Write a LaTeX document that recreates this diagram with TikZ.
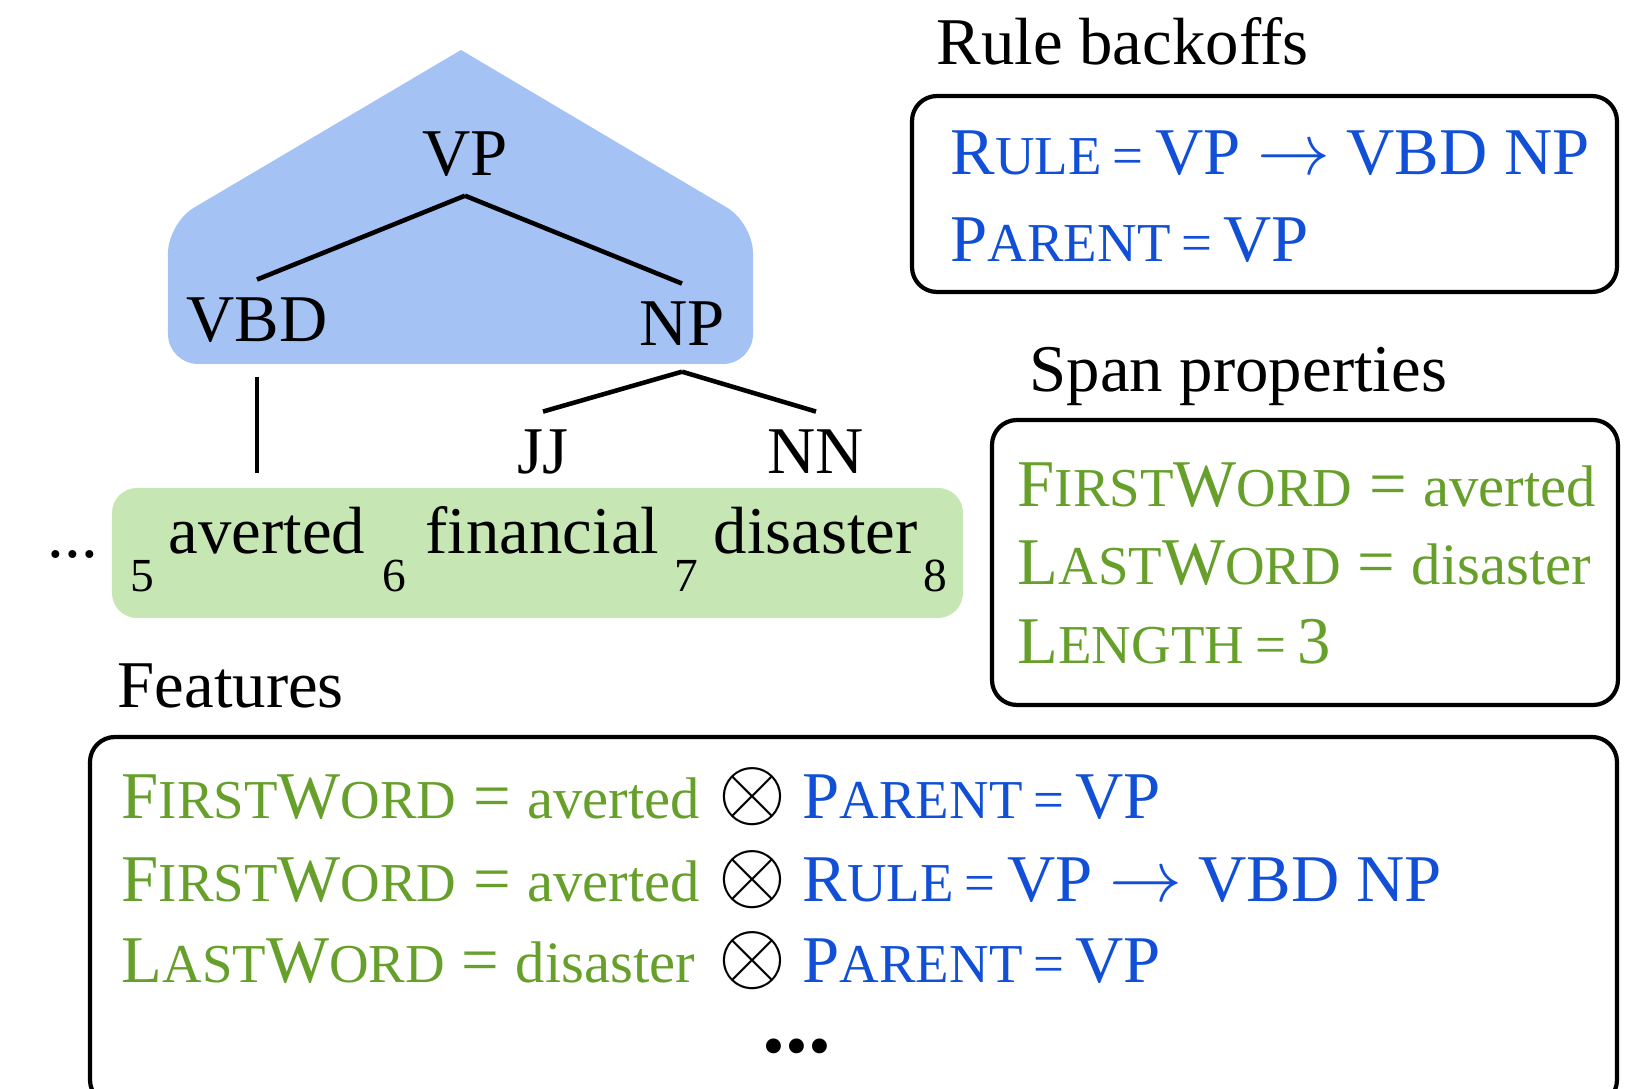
\documentclass[tikz,border=0pt]{standalone}
\usepackage{fontspec}
\setmainfont{Liberation Serif}
\usetikzlibrary{calc}

\definecolor{treeblue}{HTML}{A4C2F4}
\definecolor{spangreen}{HTML}{C6E6B3}
\definecolor{ruletext}{HTML}{1150D6}
\definecolor{spantext}{HTML}{66A02A}

\begin{document}
\begin{tikzpicture}[
  every node/.style={font=\fontsize{19}{22}\selectfont, inner sep=0.18cm},
  lbl/.style={anchor=base},
  txt/.style={anchor=base west, inner sep=0pt},
  idx/.style={anchor=base west, inner sep=0pt, font=\fontsize{13.5}{15}\selectfont},
  otimes/.style={anchor=base, inner sep=0pt, font=\fontsize{24}{24}\selectfont},
  edge/.style={line width=1.3pt},
  featbox/.style={draw, line width=1.2pt, rounded corners=0.25cm}
]
  \clip (0,0) rectangle (16.44,-10.89);

  \newcommand{\fakesc}[2]{#1{\fontsize{15.6}{16}\selectfont #2}}
  \newcommand{\smalleq}{\,{\fontsize{15.6}{16}\selectfont =}\,}
  \newcommand{\wordval}[1]{{\fontsize{16.7}{18}\selectfont #1}}
  \newcommand{\ruleto}{\ {\fontsize{21.5}{22}\selectfont$\rightarrow$}\ }

  % tree
  \fill[treeblue, rounded corners=0.3cm] (4.61,-0.50) -- (7.53,-2.23) --
    (7.53,-3.64) -- (1.68,-3.64) -- (1.68,-2.23) -- (4.61,-0.50);
  \fill[spangreen, rounded corners=0.25cm] (1.12,-4.88) rectangle (9.63,-6.18);

  \node[lbl] (VP) at (4.65,-1.76) {VP};
  \node[lbl] (VBD) at (2.57,-3.42) {VBD};
  \node[lbl] (NP) at (6.82,-3.46) {NP};
  \node[lbl] (JJ) at (5.43,-4.74) {JJ};
  \node[lbl] (NN) at (8.16,-4.74) {NN};

  \node[txt] (dots) at (0.47,-5.58) {...};
  \node[idx] (i5) at (1.30,-5.92) {5};
  \node[txt] (averted) at (1.68,-5.54) {averted};
  \node[idx] (i6) at (3.82,-5.92) {6};
  \node[txt] (financial) at (4.25,-5.54) {financial};
  \node[idx] (i7) at (6.74,-5.92) {7};
  \node[txt] (disaster) at (7.13,-5.54) {disaster};
  \node[idx] (i8) at (9.23,-5.92) {8};

  \draw[edge] (VP.south) -- (VBD.north);
  \draw[edge] (VP.south) -- (NP.north);
  \draw[edge] ([yshift=-0.07cm]NP.south) -- (JJ.north);
  \draw[edge] ([yshift=-0.07cm]NP.south) -- (NN.north);
  \draw[edge, shorten <=0.15cm, shorten >=0.34cm] (VBD.south) -- (VBD.south |- averted.north);

  % rule backoffs
  \node[txt] (rulehead) at (9.36,-0.65) {Rule backoffs};
  \draw[featbox] (9.12,-0.96) rectangle (16.17,-2.92);
  \node[txt, text=ruletext] (rule) at (9.50,-1.75)
    {\fakesc{R}{ULE}\smalleq VP\ruleto VBD NP};
  \node[txt, text=ruletext] (parent) at (9.50,-2.62)
    {\fakesc{P}{ARENT}\smalleq VP};

  % span properties
  \node[txt] (spanhead) at (10.29,-3.92) {Span properties};
  \draw[featbox] (9.92,-4.20) rectangle (16.18,-7.05);
  \node[txt, text=spantext] (firstword) at (10.17,-5.07)
    {\fakesc{F}{IRST}\fakesc{W}{ORD} = \wordval{averted}};
  \node[txt, text=spantext] (lastword) at (10.17,-5.85)
    {\fakesc{L}{AST}\fakesc{W}{ORD} = \wordval{disaster}};
  \node[txt, text=spantext] (length) at (10.17,-6.64)
    {\fakesc{L}{ENGTH}\smalleq 3};

  % features
  \node[txt] (feathead) at (1.17,-7.08) {Features};
  \draw[featbox] (0.90,-7.37) rectangle (16.17,-11.05);

  \node[txt, text=spantext] (f1) at (1.21,-8.19)
    {\fakesc{F}{IRST}\fakesc{W}{ORD} = \wordval{averted}};
  \node[otimes] (x1) at (7.53,-8.19) {$\otimes$};
  \node[txt, text=ruletext] (g1) at (8.02,-8.19) {\fakesc{P}{ARENT}\smalleq VP};

  \node[txt, text=spantext] (f2) at (1.21,-9.02)
    {\fakesc{F}{IRST}\fakesc{W}{ORD} = \wordval{averted}};
  \node[otimes] (x2) at (7.53,-9.02) {$\otimes$};
  \node[txt, text=ruletext] (g2) at (8.02,-9.02)
    {\fakesc{R}{ULE}\smalleq VP\ruleto VBD NP};

  \node[txt, text=spantext] (f3) at (1.21,-9.83)
    {\fakesc{L}{AST}\fakesc{W}{ORD} = \wordval{disaster}};
  \node[otimes] (x3) at (7.53,-9.83) {$\otimes$};
  \node[txt, text=ruletext] (g3) at (8.02,-9.83) {\fakesc{P}{ARENT}\smalleq VP};

  \node[lbl, inner sep=0pt] (more) at (7.97,-10.53) {\fontsize{26}{28}\selectfont\textbf{...}};
\end{tikzpicture}
\end{document}
